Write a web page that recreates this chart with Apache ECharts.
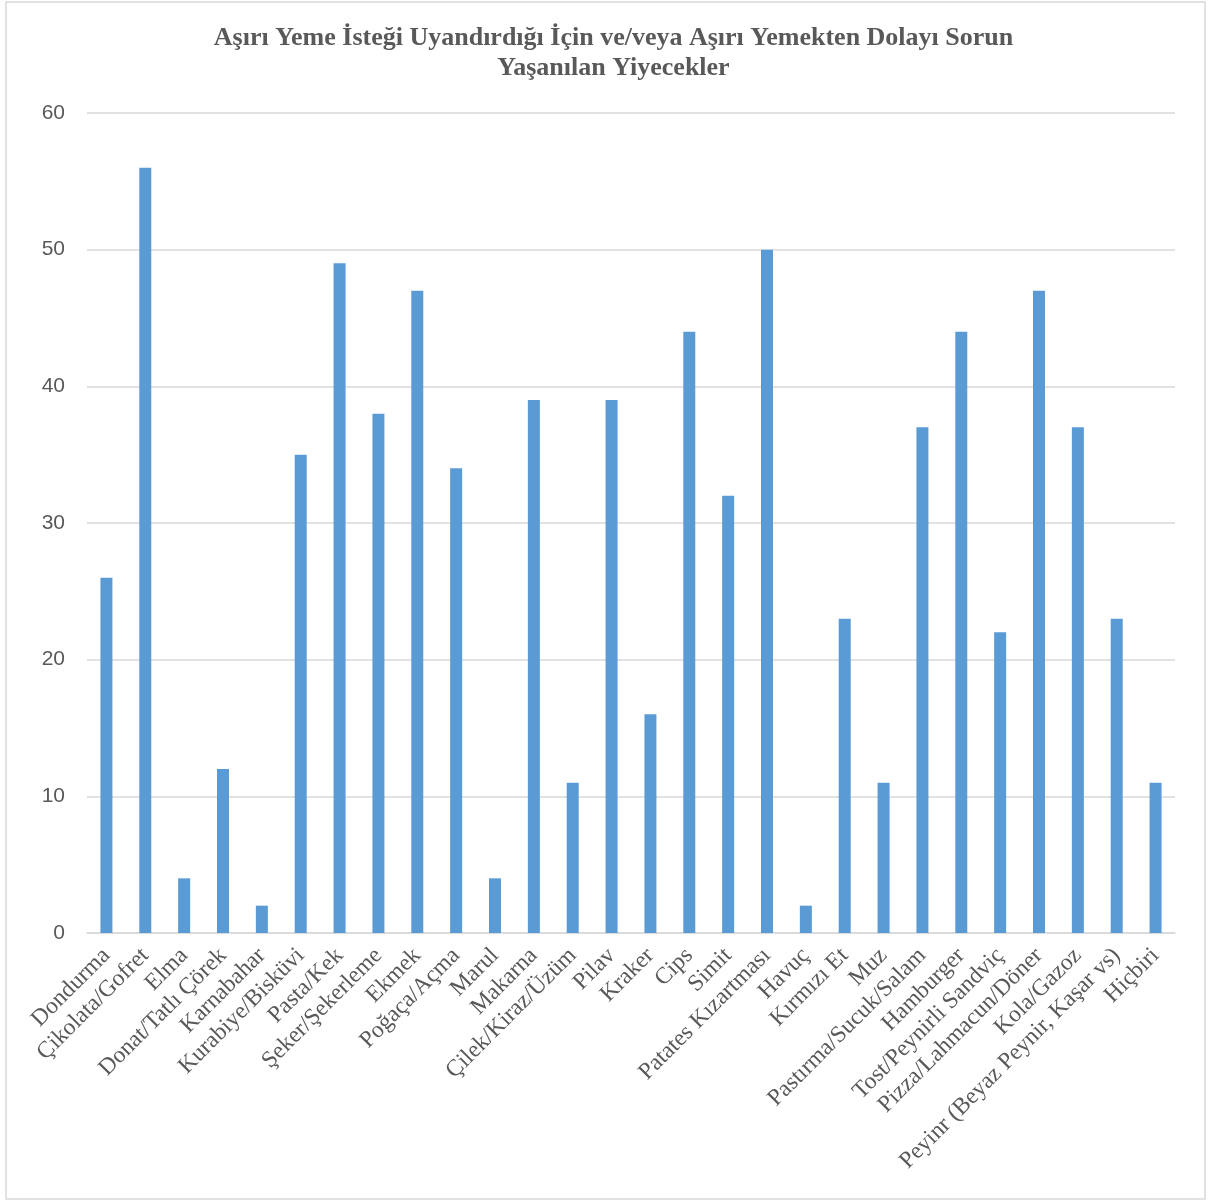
<!DOCTYPE html>
<html><head><meta charset="utf-8">
<script src="https://cdn.jsdelivr.net/npm/echarts@6/dist/echarts.min.js"></script>
<style>html,body{margin:0;padding:0;background:#fff}#c{width:1227px;height:1202px}</style>
</head><body><div id="c"></div>
<script>
const categories = ["Dondurma","Çikolata/Gofret","Elma","Donat/Tatlı Çörek","Karnabahar","Kurabiye/Bisküvi","Pasta/Kek","Şeker/Şekerleme","Ekmek","Poğaça/Açma","Marul","Makarna","Çilek/Kiraz/Üzüm","Pilav","Kraker","Cips","Simit","Patates Kızartması","Havuç","Kırmızı Et","Muz","Pastırma/Sucuk/Salam","Hamburger","Tost/Peynirli Sandviç","Pizza/Lahmacun/Döner","Kola/Gazoz","Peyinr (Beyaz Peynir, Kaşar vs)","Hiçbiri"];
const values = [26,56,4,12,2,35,49,38,47,34,4,39,11,39,16,44,32,50,2,23,11,37,44,22,47,37,23,11];
const titleText = "Aşırı Yeme İsteği Uyandırdığı İçin ve/veya Aşırı Yemekten Dolayı Sorun\nYaşanılan Yiyecekler";

const chart = echarts.init(document.getElementById('c'));
chart.setOption({
  animation: false,
  backgroundColor: '#fff',
  title: {
    text: titleText, left: 'center', top: 18,
    textStyle: {fontFamily: 'Liberation Serif', fontWeight: 'bold', fontSize: 26, color: '#595959', lineHeight: 30}
  },
  graphic: [{type: 'rect', shape: {x: 6, y: 2, width: 1199, height: 1197}, style: {fill: 'none', stroke: '#d9d9d9', lineWidth: 1.5}, silent: true}],
  grid: {left: 87, right: 52, top: 113, bottom: 269, containLabel: false},
  xAxis: {
    type: 'category', data: categories,
    axisLine: {lineStyle: {color: '#d9d9d9', width: 1.5}},
    axisTick: {show: false},
    axisLabel: {interval: 0, rotate: 45, margin: 19, fontFamily: 'Liberation Serif', fontSize: 23.5, color: '#595959'}
  },
  yAxis: {
    type: 'value', min: 0, max: 60, interval: 10,
    axisLine: {show: false}, axisTick: {show: false},
    splitLine: {lineStyle: {color: '#d9d9d9', width: 1.5}},
    axisLabel: {margin: 22, fontFamily: 'Liberation Sans', fontSize: 21, color: '#595959'}
  },
  series: [{type: 'bar', data: values, barWidth: 12, itemStyle: {color: '#5b9bd5'}}]
});
</script></body></html>
